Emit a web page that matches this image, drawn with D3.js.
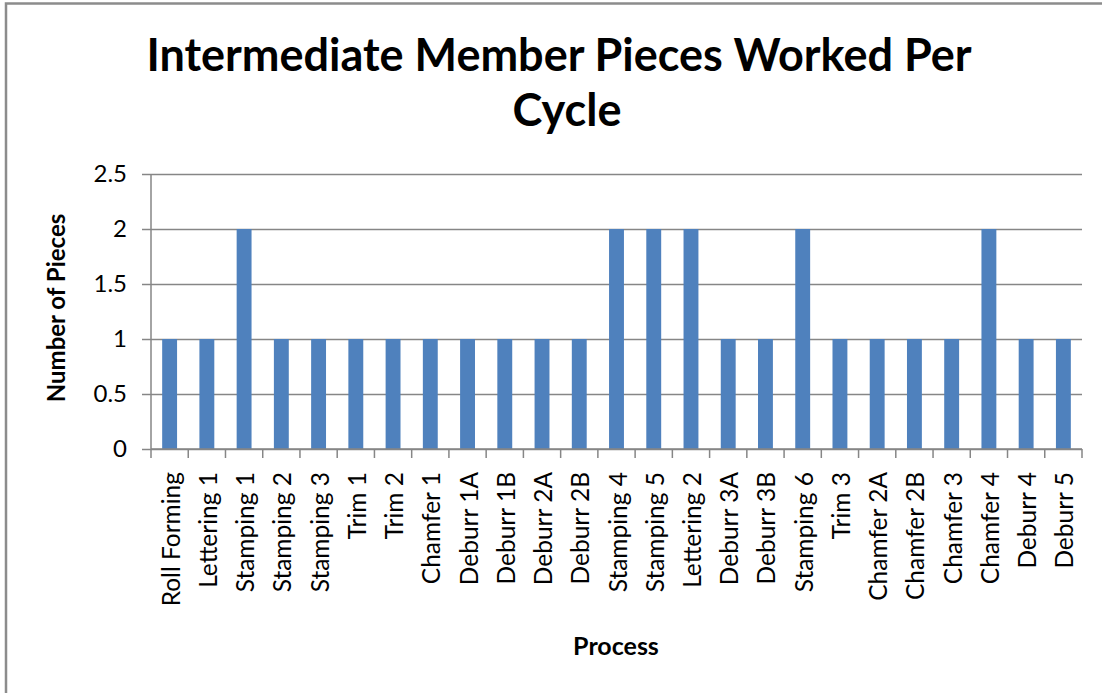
<!DOCTYPE html>
<html>
<head>
<meta charset="utf-8">
<script src="https://cdn.jsdelivr.net/npm/d3@7"></script>
<style>
  body { margin: 0; background: #fff; }
  text { font-family: Lato, "Open Sans", sans-serif; fill: #000; }
</style>
</head>
<body>
<div id="chart-area"></div>
<script>
// Intermediate member pieces worked per cycle

const processes = ["Roll Forming", "Lettering 1", "Stamping 1", "Stamping 2", "Stamping 3",
  "Trim 1", "Trim 2", "Chamfer 1", "Deburr 1A", "Deburr 1B", "Deburr 2A", "Deburr 2B",
  "Stamping 4", "Stamping 5", "Lettering 2", "Deburr 3A", "Deburr 3B", "Stamping 6",
  "Trim 3", "Chamfer 2A", "Chamfer 2B", "Chamfer 3", "Chamfer 4", "Deburr 4", "Deburr 5"]
const pieces = [1, 1, 2, 1, 1, 1, 1, 1, 1, 1, 1, 1, 2, 2, 2, 1, 1, 2, 1, 1, 1, 1, 2, 1, 1]
const yTicks = [0, 0.5, 1, 1.5, 2, 2.5]

const W = 1102, H = 693
const MARGIN = { LEFT: 151, RIGHT: 20, TOP: 174, BOTTOM: 244 }
const WIDTH = W - MARGIN.LEFT - MARGIN.RIGHT
const HEIGHT = H - MARGIN.TOP - MARGIN.BOTTOM

const svg = d3.select("#chart-area").append("svg")
  .attr("width", W)
  .attr("height", H)

// outer chart border (only top/left visible in the frame)
svg.append("rect")
  .attr("x", 6).attr("y", 3.5)
  .attr("width", W + 20).attr("height", H + 20)
  .attr("fill", "none")
  .attr("stroke", "#8c8c8c")
  .attr("stroke-width", 2.5)

const g = svg.append("g")
  .attr("transform", `translate(${MARGIN.LEFT}, ${MARGIN.TOP})`)

const x = d3.scaleBand()
  .domain(processes)
  .range([0, WIDTH])
  .paddingInner(0.6)
  .paddingOuter(0.3)
  .align(0.5)

const y = d3.scaleLinear()
  .domain([0, 2.5])
  .range([HEIGHT, 0])

// gridlines + y ticks
const yAxisCall = d3.axisLeft(y)
  .tickValues(yTicks)
  .tickSize(-(WIDTH + 9))
  .tickFormat(d3.format("~g"))
  .tickPadding(15)

const yAxis = g.append("g")
  .attr("transform", "translate(-9, 0)")
  .call(yAxisCall)
yAxis.select(".domain").remove()
yAxis.selectAll("line").attr("stroke", "#868686").attr("stroke-width", 1.5)
yAxis.selectAll("text")
  .attr("font-size", "24px")
  .style("font-family", "Lato, sans-serif")

// bars
g.selectAll("rect.bar")
  .data(pieces)
  .enter().append("rect")
    .attr("class", "bar")
    .attr("x", (d, i) => x(processes[i]))
    .attr("y", d => y(d))
    .attr("width", x.bandwidth())
    .attr("height", d => HEIGHT - y(d))
    .attr("fill", "#4F81BD")

// y axis line
g.append("line")
  .attr("x1", 0).attr("x2", 0)
  .attr("y1", 0).attr("y2", HEIGHT)
  .attr("stroke", "#868686").attr("stroke-width", 1.5)

// x axis with ticks between categories
const xAxis = g.append("g").attr("transform", `translate(0, ${HEIGHT})`)
xAxis.append("line")
  .attr("x1", 0).attr("x2", WIDTH)
  .attr("stroke", "#868686").attr("stroke-width", 1.5)
xAxis.selectAll("line.tick")
  .data(d3.range(processes.length + 1))
  .enter().append("line")
    .attr("class", "tick")
    .attr("x1", i => i * WIDTH / processes.length)
    .attr("x2", i => i * WIDTH / processes.length)
    .attr("y1", 0).attr("y2", 9)
    .attr("stroke", "#868686").attr("stroke-width", 1.5)

xAxis.selectAll("text.cat")
  .data(processes)
  .enter().append("text")
    .attr("class", "cat")
    .attr("transform", d => `translate(${x(d) + x.bandwidth() / 2 + 10}, 23) rotate(-90)`)
    .attr("text-anchor", "end")
    .attr("font-size", "24.5px")
    .text(d => d)

// title
const title = svg.append("text")
  .attr("text-anchor", "middle")
  .attr("font-size", "45px")
  .attr("font-weight", "bold")
title.append("tspan").attr("x", 559).attr("y", 71).text("Intermediate Member Pieces Worked Per")
title.append("tspan").attr("x", 567).attr("y", 126).text("Cycle")

// axis titles
svg.append("text")
  .attr("transform", "translate(65, 308) rotate(-90)")
  .attr("text-anchor", "middle")
  .attr("font-size", "24px")
  .attr("font-weight", "bold")
  .text("Number of Pieces")

svg.append("text")
  .attr("x", 616)
  .attr("y", 655)
  .attr("text-anchor", "middle")
  .attr("font-size", "25px")
  .attr("font-weight", "bold")
  .text("Process")
</script>
</body>
</html>
